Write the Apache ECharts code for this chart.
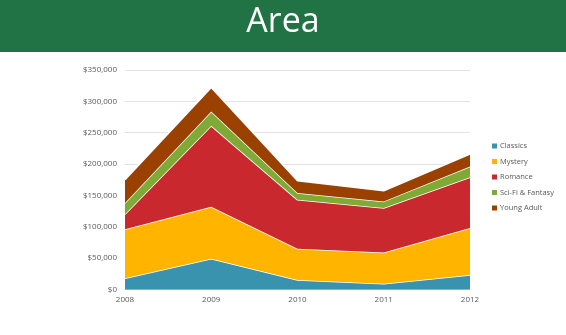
<!DOCTYPE html>
<html><head><meta charset="utf-8">
<script src="https://cdn.jsdelivr.net/npm/echarts@6/dist/echarts.min.js"></script>
<style>html,body{margin:0;padding:0;background:#fff}#c{width:566px;height:335px}</style>
</head><body><div id="c"></div>
<script>
const years = ['2008','2009','2010','2011','2012'];
const seriesNames = ['Classics','Mystery','Romance','Sci-Fi & Fantasy','Young Adult'];
const classics = [18000, 49000, 15000, 9000, 23000];
const mystery = [78000, 83000, 50000, 50000, 75000];
const romance = [24000, 129000, 78000, 71000, 81000];
const scifi = [18000, 23000, 11000, 10500, 17000];
const youngAdult = [37000, 38000, 19500, 17000, 20000];
const colors = ['#3A93AE','#FFB400','#C8282E','#7EAA35','#9A4100'];

const values = [classics, mystery, romance, scifi, youngAdult];
const chart = echarts.init(document.getElementById('c'), null, {renderer:'canvas'});
chart.setOption({
  animation:false,
  graphic:[
    {type:'rect', left:0, top:0, shape:{width:566, height:52}, style:{fill:'#217346'}, z:-1},
    {type:'text', left:'center', top:5, style:{text:'Area', fill:'#ffffff', font:'34px "Open Sans", "Noto Sans", sans-serif'}}
  ],
  grid:{left:125, right:96, top:70, bottom:45.5, containLabel:false},
  legend:{
    orient:'vertical', left:487, top:137, itemWidth:5, itemHeight:5, itemGap:7.5,
    icon:'rect', textStyle:{fontSize:7.5, color:'#595959', fontFamily:'"Open Sans", sans-serif', padding:[0,0,0,-2]},
    data:seriesNames
  },
  xAxis:{
    type:'category', data:years, boundaryGap:false,
    axisLine:{show:true, lineStyle:{color:'#d9d9d9'}}, axisTick:{show:false},
    axisLabel:{fontSize:8, color:'#595959', margin:6, fontFamily:'"Open Sans", sans-serif'}
  },
  yAxis:{
    type:'value', min:0, max:350000, interval:50000,
    axisLine:{show:false}, axisTick:{show:false},
    splitLine:{lineStyle:{color:'#e3e3e3'}},
    axisLabel:{fontSize:8, color:'#595959', margin:8, fontFamily:'"Open Sans", sans-serif',
      formatter:v=>'$'+v.toLocaleString('en-US')}
  },
  series: seriesNames.map((n,i)=>({
    name:n, type:'line', stack:'total', data:values[i], symbol:'none',
    lineStyle:{color:'#ffffff', width:1.5},
    itemStyle:{color:colors[i]},
    areaStyle:{color:colors[i], opacity:1},
    z: 2 + i
  }))
});
</script></body></html>
